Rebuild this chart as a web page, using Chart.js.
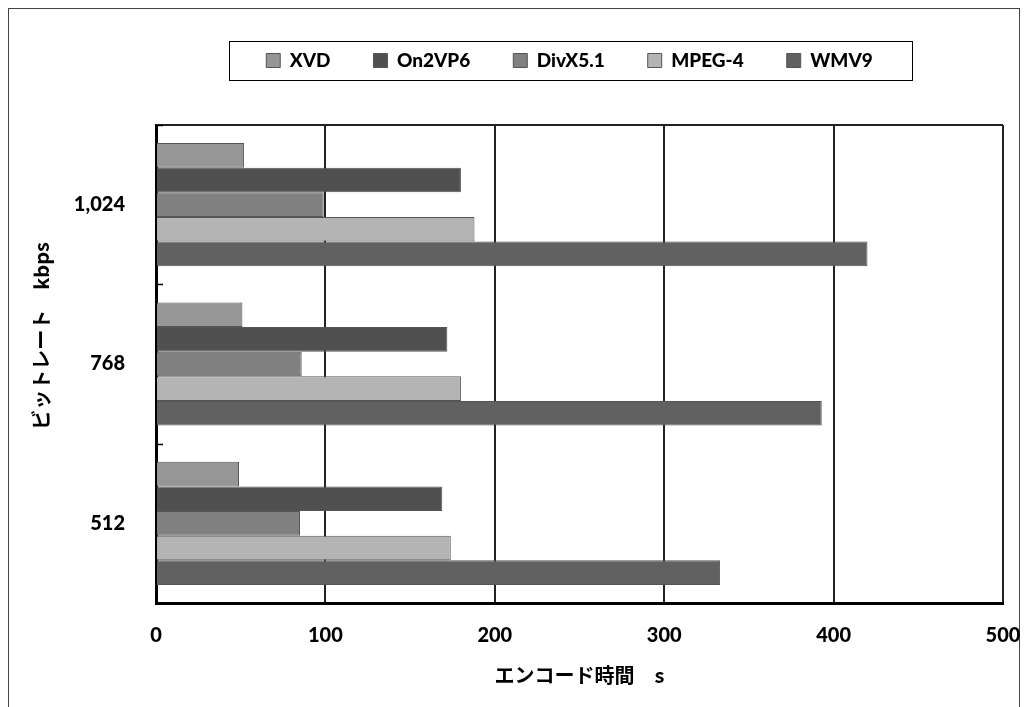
<!DOCTYPE html>
<html>
<head>
<meta charset="utf-8">
<script src="https://cdn.jsdelivr.net/npm/chart.js@4.4.1/dist/chart.umd.min.js"></script>
<style>
  html, body { margin: 0; padding: 0; background: #fff; overflow: hidden; }
  canvas { display: block; }
</style>
</head>
<body>
<canvas id="c" width="1027" height="707"></canvas>
<script>
// Bit-rate categories (kbps), top to bottom
const categories = ['1,024', '768', '512'];
// Encoder names
const seriesNames = ['XVD', 'On2VP6', 'DivX5.1', 'MPEG-4', 'WMV9'];
// Encoding time in seconds per bit-rate
const xvd    = [52, 51, 49];
const on2vp6 = [180, 172, 169];
const divx51 = [99, 86, 85];
const mpeg4  = [188, 180, 174];
const wmv9   = [420, 393, 333];
// Value axis ticks
const xTicks = [0, 100, 200, 300, 400, 500];
const xTitle = 'エンコード時間　s';
const yTitle = 'ビットレート　kbps';

const seriesValues = [xvd, on2vp6, divx51, mpeg4, wmv9];
const fills = ['#969696', '#505050', '#808080', '#b4b4b4', '#616161'];

const LAT = 'Lato, "Open Sans", sans-serif';
const JP = '"Noto Sans CJK JP", "Noto Sans", sans-serif';

// page frame, plot frame, inner category ticks, legend frame, vertical axis title
const decorations = {
  id: 'decorations',
  beforeInit(chart) {
    const fit = chart.legend.fit;
    chart.legend.fit = function () {
      fit.call(this);
      this.height += 45;
    };
  },
  afterLayout(chart) {
    // legend sits a little left of the plot centre
    chart.legend.left -= 10;
    chart.legend.right -= 10;
  },
  beforeDraw(chart) {
    const ctx = chart.ctx;
    ctx.save();
    ctx.fillStyle = '#fff';
    ctx.fillRect(0, 0, chart.width, chart.height);
    ctx.strokeStyle = '#444';
    ctx.lineWidth = 1;
    ctx.strokeRect(8.5, 8.5, 1011, 730);
    ctx.restore();
  },
  afterDraw(chart) {
    const ctx = chart.ctx;
    const a = chart.chartArea;
    const y = chart.scales.y;
    ctx.save();
    // top edge of plot
    ctx.strokeStyle = '#222';
    ctx.lineWidth = 2;
    ctx.beginPath();
    ctx.moveTo(a.left, a.top);
    ctx.lineTo(a.right, a.top);
    ctx.stroke();
    // small inward ticks between categories
    ctx.strokeStyle = '#000';
    ctx.lineWidth = 1.5;
    for (let i = 0; i <= categories.length; i++) {
      const py = Math.round(y.getPixelForValue(i - 0.5)) + 0.5;
      ctx.beginPath();
      ctx.moveTo(a.left, py);
      ctx.lineTo(a.left + 7, py);
      ctx.stroke();
    }
    // legend frame
    const hb = chart.legend.legendHitBoxes;
    if (hb && hb.length) {
      const first = hb[0], last = hb[hb.length - 1];
      const cy = first.top + first.height / 2;
      ctx.strokeStyle = '#000';
      ctx.lineWidth = 1;
      const lx = Math.round(first.left - 37) + 0.5;
      const rx = Math.round(last.left + last.width + 39) + 0.5;
      ctx.strokeRect(lx, Math.round(cy - 20) + 0.5, rx - lx, 39);
    }
    // vertical axis title
    ctx.translate(41, 336);
    ctx.rotate(-Math.PI / 2);
    ctx.fillStyle = '#000';
    ctx.font = 'bold 20px ' + JP;
    ctx.textAlign = 'center';
    ctx.textBaseline = 'middle';
    ctx.fillText(yTitle, 0, 0);
    ctx.restore();
  }
};

new Chart(document.getElementById('c'), {
  type: 'bar',
  data: {
    labels: categories,
    datasets: seriesNames.map((name, i) => ({
      label: name,
      data: seriesValues[i],
      backgroundColor: fills[i],
      borderColor: '#555',
      borderWidth: 1,
      categoryPercentage: 0.773,
      barPercentage: 1
    }))
  },
  options: {
    indexAxis: 'y',
    responsive: false,
    animation: false,
    devicePixelRatio: 1,
    layout: { padding: { top: 8, right: 24, bottom: 0, left: 0 } },
    plugins: {
      tooltip: { enabled: false },
      legend: {
        position: 'top',
        fullSize: false,
        labels: {
          boxWidth: 14,
          boxHeight: 14,
          padding: 43,
          color: '#000',
          font: { family: LAT, size: 19, weight: '900' }
        }
      }
    },
    scales: {
      x: {
        min: 0,
        max: 500,
        afterBuildTicks(s) { s.ticks = xTicks.map(v => ({ value: v })); },
        afterFit(s) { s.height = 104; s.paddingRight = 0; s.paddingLeft = 0; },
        grid: { color: '#222', lineWidth: 2, drawTicks: false },
        border: { display: true, color: '#000', width: 3 },
        ticks: {
          padding: 21,
          color: '#000',
          maxRotation: 0,
          font: { family: LAT, size: 20, weight: '900' }
        },
        title: {
          display: true,
          text: xTitle,
          color: '#000',
          padding: { top: 0, bottom: 20 },
          font: { family: JP, size: 20, weight: 'bold' }
        }
      },
      y: {
        z: 1,
        afterFit(s) { s.width = 156; },
        grid: { display: true, drawOnChartArea: false, drawTicks: false },
        border: { display: true, color: '#000', width: 3 },
        ticks: {
          padding: 31,
          color: '#000',
          font: { family: LAT, size: 20, weight: '900' }
        }
      }
    }
  },
  plugins: [decorations]
});
</script>
</body>
</html>
